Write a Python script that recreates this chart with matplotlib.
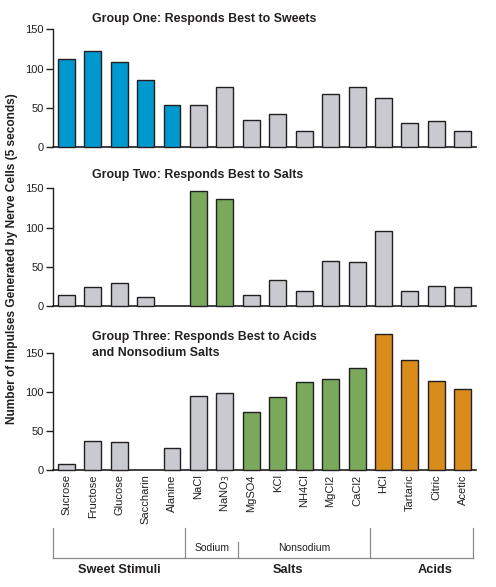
import matplotlib
matplotlib.use("Agg")
import matplotlib.pyplot as plt

plt.rcParams['font.family'] = ['Liberation Sans', 'DejaVu Sans']

stimuli = ["Sucrose", "Fructose", "Glucose", "Saccharin", "Alanine",
           "NaCl", "NaNO$_3$", "MgSO4", "KCl", "NH4Cl", "MgCl2", "CaCl2",
           "HCl", "Tartaric", "Citric", "Acetic"]

group_one = [112, 122, 108, 85, 53, 53, 77, 34, 42, 20, 68, 77, 63, 30, 33, 21]
group_two = [14, 24, 29, 11, 0, 146, 136, 14, 33, 19, 57, 56, 96, 19, 25, 24]
group_three = [8, 37, 36, 0, 29, 95, 98, 74, 93, 112, 116, 131, 174, 141, 114, 103]

titles = [["Group One: Responds Best to Sweets"],
          ["Group Two: Responds Best to Salts"],
          ["Group Three: Responds Best to Acids", "and Nonsodium Salts"]]

BLUE = "#0099cf"
GRAY = "#c8cacf"
GREEN = "#7aa95c"
ORANGE = "#d98b1c"
INK = "#231f20"

colors_one = [BLUE] * 5 + [GRAY] * 11
colors_two = [GRAY] * 5 + [GREEN] * 2 + [GRAY] * 9
colors_three = [GRAY] * 7 + [GREEN] * 5 + [ORANGE] * 4

fig = plt.figure(figsize=(4.96, 5.87), dpi=100)

left, width = 0.1069, 0.8528
bottoms = [0.7496, 0.4787, 0.1988]
height = 0.2005

data = [group_one, group_two, group_three]
cols = [colors_one, colors_two, colors_three]
axes = []
for k in range(3):
    ax = fig.add_axes([left, bottoms[k], width, height])
    x = list(range(len(stimuli)))
    lws = [1.0 if v > 0 else 0.0 for v in data[k]]
    ax.bar(x, data[k], width=0.64, color=cols[k], edgecolor=INK,
           linewidth=lws, clip_on=False, zorder=3)
    ax.set_xlim(-0.5, 15.5)
    ax.set_ylim(0, 150)
    ax.set_yticks([0, 50, 100, 150])
    ax.tick_params(axis='y', length=5, width=1, pad=1.5, labelsize=8,
                   colors=INK)
    ax.tick_params(axis='x', length=0)
    ax.spines['top'].set_visible(False)
    ax.spines['right'].set_visible(False)
    ax.spines['left'].set_linewidth(1.0)
    ax.spines['bottom'].set_linewidth(1.2)
    ax.spines['left'].set_color(INK)
    ax.spines['bottom'].set_color(INK)
    axes.append(ax)

for k in range(2):
    axes[k].set_xticks([])

title_y = [[19], [175], [337, 353]]
for k in range(3):
    for line, ypx in zip(titles[k], title_y[k]):
        fig.text(92 / 496, 1 - ypx / 587, line, fontsize=8.9, fontweight='bold',
                 ha='left', va='center', color=INK)

ax3 = axes[2]
ax3.set_xticks(range(len(stimuli)))
ax3.set_xticklabels(stimuli, rotation=90, fontsize=8, color=INK)
ax3.tick_params(axis='x', pad=3)

# group brackets
tr = ax3.get_xaxis_transform()
lc = "#8a8a8a"
y_top = -0.489
y_bot = -0.743
y_mid = -0.605
for xv, yt in [(-0.5, y_top), (4.5, y_top), (6.5, y_mid), (11.5, y_top), (15.4, y_top)]:
    ax3.plot([xv, xv], [yt, y_bot], color=lc, lw=0.9, transform=tr, clip_on=False)
ax3.plot([-0.5, 15.4], [y_bot, y_bot], color=lc, lw=0.9, transform=tr, clip_on=False)

ax3.text(5.5, -0.659, "Sodium", transform=tr, ha='center', va='center',
         fontsize=7.5, color=INK)
ax3.text(9.0, -0.659, "Nonsodium", transform=tr, ha='center', va='center',
         fontsize=7.5, color=INK)
ax3.text(2.0, -0.845, "Sweet Stimuli", transform=tr, ha='center', va='center',
         fontsize=9.2, fontweight='bold', color=INK)
ax3.text(8.4, -0.845, "Salts", transform=tr, ha='center', va='center',
         fontsize=9.2, fontweight='bold', color=INK)
ax3.text(13.95, -0.845, "Acids", transform=tr, ha='center', va='center',
         fontsize=9.2, fontweight='bold', color=INK)

fig.text(12 / 496, 1 - 259 / 587,
         "Number of Impulses Generated by Nerve Cells (5 seconds)",
         rotation=90, ha='center', va='center', fontsize=8.6,
         fontweight='bold', color=INK)

fig.savefig("out.png", dpi=100)
